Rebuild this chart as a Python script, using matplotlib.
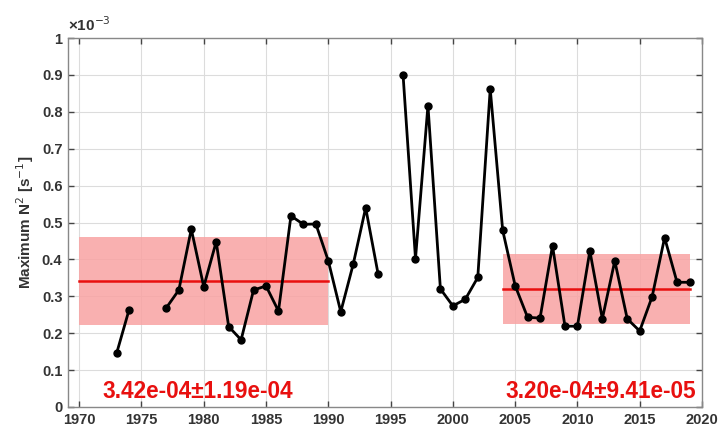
import numpy as np
import matplotlib
matplotlib.use("Agg")
import matplotlib.pyplot as plt

plt.rcParams['font.family'] = ['Liberation Sans', 'DejaVu Sans']

# yearly maximum N^2, in units of 1e-3 s^-2 (NaN = no data)
years = np.arange(1973, 2020)
n2_max = [0.145, 0.263, np.nan, np.nan, 0.269, 0.317, 0.482, 0.326, 0.448, 0.218,
          0.182, 0.317, 0.328, 0.260, 0.518, 0.495, 0.496, 0.396, 0.258, 0.387,
          0.540, 0.360, np.nan, 0.901, 0.402, 0.817, 0.320, 0.274, 0.292, 0.351,
          0.862, 0.479, 0.329, 0.243, 0.241, 0.437, 0.219, 0.219, 0.423, 0.239,
          0.396, 0.239, 0.206, 0.299, 0.459, 0.338, 0.338]

# period statistics (mean, std), 1e-3 units
period_1 = (1970, 1990)
mean_1, std_1 = 0.342, 0.119
period_2 = (2004, 2019)
mean_2, std_2 = 0.320, 0.0941
label_1 = "3.42e-04\u00b11.19e-04"
label_2 = "3.20e-04\u00b19.41e-05"

fig = plt.figure(figsize=(7.21, 4.29), dpi=100)
ax = fig.add_axes([0.0943, 0.0513, 0.8793, 0.8601])

for (x0, x1), m, s in [(period_1, mean_1, std_1), (period_2, mean_2, std_2)]:
    ax.fill_between([x0, x1], m - s, m + s, color="#f9a3a3", alpha=0.85, lw=0, zorder=1)
    ax.plot([x0, x1], [m, m], color="#e8100f", lw=1.8, zorder=2)

ax.plot(years, n2_max, color="black", lw=2, marker="o", ms=5, zorder=3)

ax.text(1971.9, 0.01, label_1, color="#e8100f", fontsize=16.3, fontweight="bold",
        va="bottom", zorder=4)
ax.text(2019.5, 0.01, label_2, color="#e8100f", fontsize=16.3, fontweight="bold",
        ha="right", va="bottom", zorder=4)

ax.set_xlim(1969.1, 2020)
ax.set_ylim(0, 1.0)
ax.set_xticks(np.arange(1970, 2021, 5))
ax.set_yticks(np.arange(0, 1.01, 0.1))
ax.set_yticklabels(["0", "0.1", "0.2", "0.3", "0.4", "0.5", "0.6", "0.7", "0.8", "0.9", "1"])
ax.grid(True, color="#dcdcdc", lw=0.8)
ax.set_axisbelow(True)
ax.tick_params(direction="in", top=True, right=True, length=4, width=1,
               color="#444444", labelsize=10.5, pad=4)
for lab in ax.get_xticklabels() + ax.get_yticklabels():
    lab.set_fontweight("bold")
    lab.set_color("#333333")
for sp in ax.spines.values():
    sp.set_color("#888888")
    sp.set_linewidth(1)

ax.set_ylabel("Maximum N$^2$ [s$^{-1}$]", fontsize=11, fontweight="bold", color="#333333")
ax.text(0.0, 1.01, "\u00d710$^{-3}$", transform=ax.transAxes, fontsize=11,
        fontweight="bold", color="#333333", va="bottom")

fig.savefig("out.png", dpi=100)
plt.close(fig)
